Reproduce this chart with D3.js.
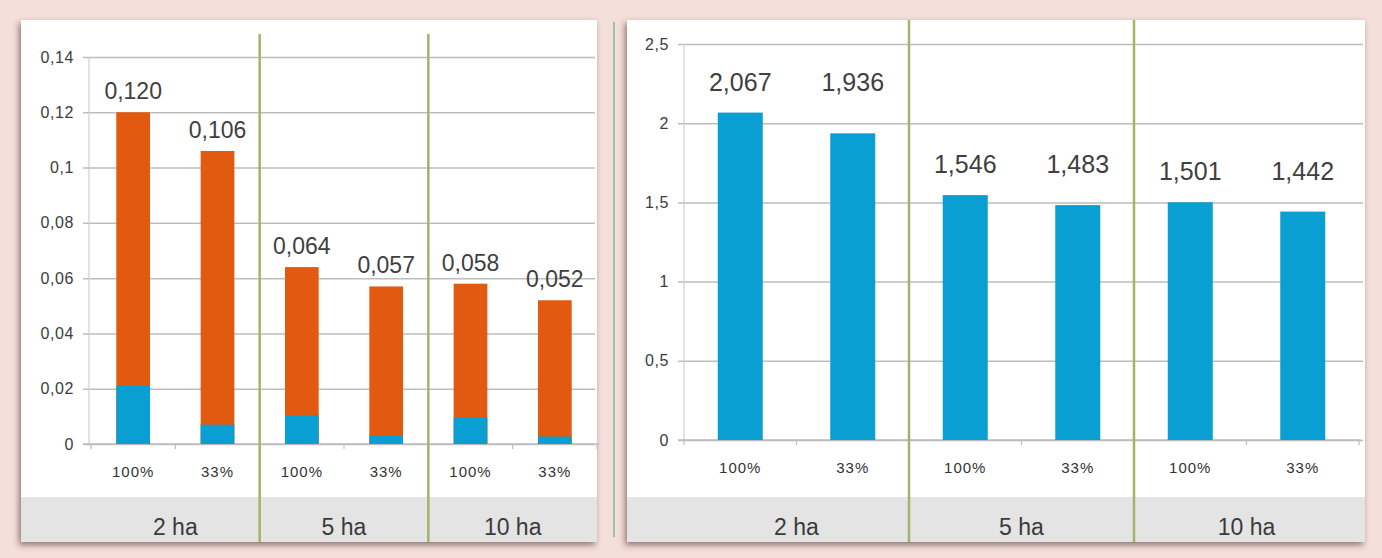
<!DOCTYPE html>
<html>
<head>
<meta charset="utf-8">
<script src="https://cdn.jsdelivr.net/npm/d3@7"></script>
<style>
  body { margin: 0; background: #f4dfdb; }
  svg { display: block; }
</style>
</head>
<body>
<svg id="chart" width="1382" height="558"></svg>
<script>
var groups = ["2 ha", "5 ha", "10 ha"];
var shares = ["100%", "33%", "100%", "33%", "100%", "33%"];
var leftTotals = [0.120, 0.106, 0.064, 0.057, 0.058, 0.052];
var leftBlue = [0.021, 0.007, 0.0105, 0.003, 0.0095, 0.0027];
var leftLabels = ["0,120", "0,106", "0,064", "0,057", "0,058", "0,052"];
var leftTicks = [0, 0.02, 0.04, 0.06, 0.08, 0.1, 0.12, 0.14];
var leftTickLabels = ["0", "0,02", "0,04", "0,06", "0,08", "0,1", "0,12", "0,14"];
var rightValues = [2.067, 1.936, 1.546, 1.483, 1.501, 1.442];
var rightLabels = ["2,067", "1,936", "1,546", "1,483", "1,501", "1,442"];
var rightTicks = [0, 0.5, 1, 1.5, 2, 2.5];
var rightTickLabels = ["0", "0,5", "1", "1,5", "2", "2,5"];

var blue = "#0a9fd2";
var orange = "#e25a10";
var textColor = "#404040";
var gridColor = "#bdbdbd";
var sepColor = "#a2b46a";
var mainFont = "Arial, 'Liberation Sans', sans-serif";

var svg = d3.select("#chart");

var defs = svg.append("defs");
var shadow = defs.append("filter").attr("id", "shadow")
    .attr("x", "-5%").attr("y", "-5%").attr("width", "110%").attr("height", "110%");
shadow.append("feDropShadow")
    .attr("dx", -2).attr("dy", 3).attr("stdDeviation", 3)
    .attr("flood-color", "#5b3a35").attr("flood-opacity", 0.65);

svg.append("rect").attr("width", 1382).attr("height", 558).attr("fill", "#f4dfdb");

// thin green line between the two panels
svg.append("line")
    .attr("x1", 614).attr("x2", 614).attr("y1", 22).attr("y2", 537)
    .attr("stroke", "#62b47e").attr("stroke-width", 1.2);

drawPanel({
  left: 21, right: 597, top: 20, bottom: 542,
  x0: 91, x1: 597, axisX: 89, y0: 444, yTop: 57,
  max: 0.14, ticks: leftTicks, tickLabels: leftTickLabels,
  totals: leftTotals, lower: leftBlue, labels: leftLabels,
  labelSize: 23, labelOffset: 13, sepTop: 34
});

drawPanel({
  left: 627, right: 1365, top: 20, bottom: 542,
  x0: 684, x1: 1359, axisX: 684, y0: 440, yTop: 44,
  max: 2.5, ticks: rightTicks, tickLabels: rightTickLabels,
  totals: rightValues, lower: null, labels: rightLabels,
  labelSize: 25, labelOffset: 22, sepTop: 20
});

function drawPanel(p) {
  var g = svg.append("g");

  g.append("rect")
    .attr("x", p.left).attr("y", p.top)
    .attr("width", p.right - p.left).attr("height", p.bottom - p.top)
    .attr("fill", "#ffffff")
    .attr("filter", "url(#shadow)");

  // grey band holding the group names
  g.append("rect")
    .attr("x", p.left).attr("y", 497)
    .attr("width", p.right - p.left).attr("height", p.bottom - 497)
    .attr("fill", "#e4e4e4");

  var x = d3.scaleBand()
    .domain(d3.range(p.totals.length))
    .range([p.x0, p.x1])
    .paddingInner(0.6)
    .paddingOuter(0.3);

  var y = d3.scaleLinear().domain([0, p.max]).range([p.y0, p.yTop]);

  // gridlines + y labels
  var yAxis = d3.axisLeft(y)
    .tickValues(p.ticks)
    .tickFormat(function(d, i) { return p.tickLabels[i]; })
    .tickSize(-(p.right - 2 - p.axisX))
    .tickPadding(15);

  var ya = g.append("g")
    .attr("transform", "translate(" + p.axisX + ",0)")
    .call(yAxis);
  ya.select(".domain").remove();
  ya.selectAll(".tick line")
    .attr("x1", -6)
    .attr("stroke", gridColor)
    .attr("stroke-width", 1.5);
  ya.selectAll(".tick text")
    .attr("fill", "#3c3c3c")
    .style("font-family", mainFont)
    .style("font-size", "16px")
    .style("letter-spacing", "0.6px");

  // y axis line
  g.append("line")
    .attr("x1", p.axisX).attr("x2", p.axisX)
    .attr("y1", p.yTop).attr("y2", p.y0)
    .attr("stroke", "#cfcfcf").attr("stroke-width", 1.2);

  // x axis line and ticks between slots
  g.append("line")
    .attr("x1", p.axisX - 6).attr("x2", p.x1 + 2)
    .attr("y1", p.y0).attr("y2", p.y0)
    .attr("stroke", gridColor).attr("stroke-width", 1.5);

  var bounds = d3.range(p.totals.length + 1).map(function(i) { return p.x0 + i * x.step(); });
  g.selectAll(".xtick").data(bounds).enter().append("line")
    .attr("x1", function(d) { return d; }).attr("x2", function(d) { return d; })
    .attr("y1", p.y0).attr("y2", p.y0 + 5)
    .attr("stroke", gridColor).attr("stroke-width", 1.2);

  // bars
  g.selectAll(".bar").data(p.totals).enter().append("rect")
    .attr("x", function(d, i) { return x(i); })
    .attr("y", function(d) { return y(d); })
    .attr("width", x.bandwidth())
    .attr("height", function(d) { return p.y0 - y(d); })
    .attr("fill", p.lower ? orange : blue);

  if (p.lower) {
    g.selectAll(".low").data(p.lower).enter().append("rect")
      .attr("x", function(d, i) { return x(i); })
      .attr("y", function(d) { return y(d); })
      .attr("width", x.bandwidth())
      .attr("height", function(d) { return p.y0 - y(d); })
      .attr("fill", blue);
  }

  // value labels; on the right panel each pair sits above the taller bar
  g.selectAll(".val").data(p.totals).enter().append("text")
    .attr("x", function(d, i) { return x(i) + x.bandwidth() / 2; })
    .attr("y", function(d, i) {
      if (p.lower) return y(d) - p.labelOffset;
      var k = Math.floor(i / 2) * 2;
      return y(Math.max(p.totals[k], p.totals[k + 1])) - p.labelOffset;
    })
    .attr("text-anchor", "middle")
    .attr("fill", textColor)
    .style("font-family", mainFont)
    .style("font-size", p.labelSize + "px")
    .text(function(d, i) { return p.labels[i]; });

  // category labels
  g.selectAll(".cat").data(shares).enter().append("text")
    .attr("x", function(d, i) { return x(i) + x.bandwidth() / 2; })
    .attr("y", p.y0 + 33)
    .attr("text-anchor", "middle")
    .attr("fill", "#333333")
    .style("font-family", mainFont)
    .style("font-size", "15px")
    .style("letter-spacing", "1px")
    .text(function(d) { return d; });

  // group names
  var groupStep = x.step() * 2;
  g.selectAll(".grp").data(groups).enter().append("text")
    .attr("x", function(d, i) { return p.x0 + groupStep * i + groupStep / 2; })
    .attr("y", 535)
    .attr("text-anchor", "middle")
    .attr("fill", "#3a3a3a")
    .style("font-family", mainFont)
    .style("font-size", "23px")
    .text(function(d) { return d; });

  // olive separators between groups
  g.selectAll(".sep").data([1, 2]).enter().append("line")
    .attr("x1", function(d) { return p.x0 + groupStep * d; })
    .attr("x2", function(d) { return p.x0 + groupStep * d; })
    .attr("y1", p.sepTop).attr("y2", p.bottom)
    .attr("stroke", sepColor).attr("stroke-width", 2.5);
}
</script>
</body>
</html>
